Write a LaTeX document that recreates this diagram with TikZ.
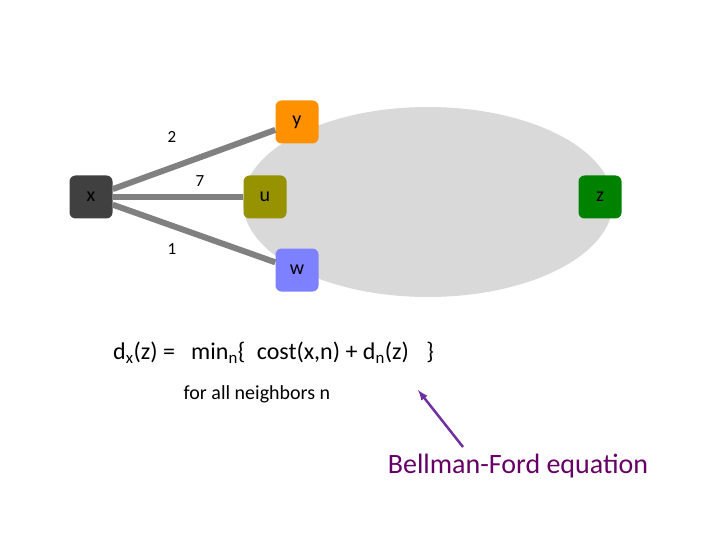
\documentclass[tikz,border=0pt]{standalone}
\usepackage{fontspec}
\setmainfont{Carlito}

\definecolor{xgray}{RGB}{64,64,64}
\definecolor{yorange}{RGB}{255,145,0}
\definecolor{uolive}{RGB}{150,146,0}
\definecolor{wblue}{RGB}{125,128,255}
\definecolor{zgreen}{RGB}{0,130,0}
\definecolor{cloud}{RGB}{217,217,217}
\definecolor{linkgray}{RGB}{128,128,128}
\definecolor{bfpurple}{RGB}{112,48,160}
\definecolor{bftext}{RGB}{102,0,102}

\begin{document}
\begin{tikzpicture}[x=1pt, y=-1pt,
		router/.style={shape=rectangle, rounded corners=6pt, minimum width=43pt, minimum height=43pt, inner sep=0pt, font=\fontsize{20}{22}\selectfont},
		link/.style={draw=linkgray, line width=6pt},
		cost/.style={font=\fontsize{17}{19}\selectfont}]
			\useasboundingbox (0, 0) rectangle (720, 540);
			\fill[cloud] (428, 202) ellipse [x radius=185, y radius=95];
			\node[router, fill=xgray] (x) at (91, 197){x};
			\node[router, fill=yorange] (y) at (297, 122){y};
			\node[router, fill=uolive] (u) at (265, 197){u};
			\node[router, fill=wblue] (w) at (297, 270){w};
			\node[router, fill=zgreen] (z) at (600, 197){z};
			\draw[link] (x) -- (y);
			\draw[link] (x) -- (u);
			\draw[link] (x) -- (w);
			\node[cost] (c2) at (172, 137){2};
			\node[cost] (c7) at (200, 181){7};
			\node[cost] (c1) at (172, 249){1};
			\node[anchor=west, inner sep=0pt, font=\fontsize{24}{28}\selectfont] (eq) at (113, 353){d\textsubscript{x}(z) =\hspace{0.45em} min\textsubscript{n}\{\hspace{0.25em} cost(x,n) + d\textsubscript{n}(z)\hspace{0.5em} \}};
			\node[font=\fontsize{20}{22}\selectfont] (all) at (257, 394){for all neighbors n};
			\node[font=\fontsize{28}{32}\selectfont, text=bftext] (bf) at (518, 466){Bellman-Ford equation};
			\coordinate (tip) at (418, 390);
			\draw[-latex, draw=bfpurple, line width=2.5pt] (463, 447) -- (tip);
		\end{tikzpicture}
\end{document}
